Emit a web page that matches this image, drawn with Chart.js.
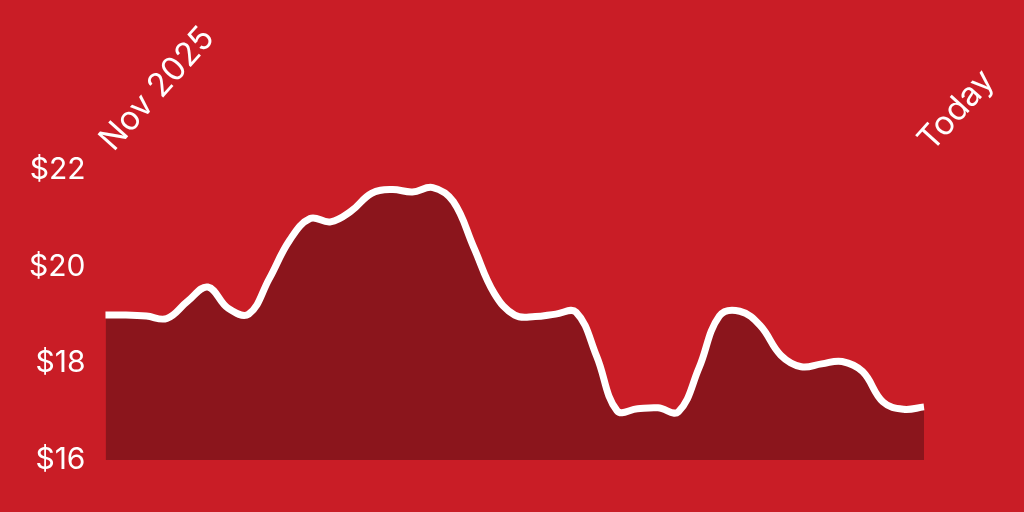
<!DOCTYPE html>
<html>
<head>
<meta charset="utf-8">
<script src="https://cdn.jsdelivr.net/npm/chart.js@4/dist/chart.umd.min.js"></script>
<style>
  html, body { margin: 0; padding: 0; background: #C91D26; }
  #wrap { width: 1024px; height: 512px; }
</style>
</head>
<body>
<div id="wrap"><canvas id="c" width="1024" height="512"></canvas></div>
<script>
// Category labels (only first and last are shown)
const firstLabel = 'Nov 2025';
const lastLabel = 'Today';
// Price series (USD), sampled along the period
const prices = [
  19.0, 19.0, 18.98, 18.93, 19.28, 19.58, 19.14, 19.02, 19.75, 20.55,
  21.0, 20.93, 21.15, 21.52, 21.6, 21.55, 21.64, 21.35, 20.4, 19.45,
  19.0, 18.97, 19.02, 19.06, 18.15, 17.02, 17.06, 17.08, 17.0, 17.9,
  18.98, 19.08, 18.78, 18.17, 17.93, 17.99, 18.04, 17.83, 17.2, 17.05,
  17.1
];
const labels = prices.map((_, i) => i === 0 ? firstLabel : (i === prices.length - 1 ? lastLabel : ''));
const yTicks = [16, 18, 20, 22];

new Chart(document.getElementById('c'), {
  type: 'line',
  data: {
    labels: labels,
    datasets: [{
      data: prices,
      borderColor: '#FFFFFF',
      borderWidth: 7,
      backgroundColor: '#8B151C',
      fill: 'start',
      pointRadius: 0,
      tension: 0.4,
      borderJoinStyle: 'round'
    }]
  },
  options: {
    responsive: false,
    animation: false,
    layout: { padding: { left: 17, right: 100, top: 16, bottom: 52 } },
    plugins: { legend: { display: false }, tooltip: { enabled: false } },
    scales: {
      x: {
        position: 'top',
        grid: { display: false },
        border: { display: false },
        ticks: {
          autoSkip: false,
          maxRotation: 48,
          minRotation: 48,
          color: '#FFFFFF',
          font: { family: 'Inter', size: 33 },
          padding: 3,
          labelOffset: 30
        }
      },
      y: {
        min: 16,
        max: 22,
        grid: { display: false },
        border: { display: false },
        afterBuildTicks: (axis) => { axis.ticks = yTicks.map(v => ({ value: v })); },
        ticks: {
          color: '#FFFFFF',
          font: { family: 'Inter', size: 30 },
          padding: 12,
          callback: (v) => '$' + v
        }
      }
    }
  }
});
</script>
</body>
</html>
